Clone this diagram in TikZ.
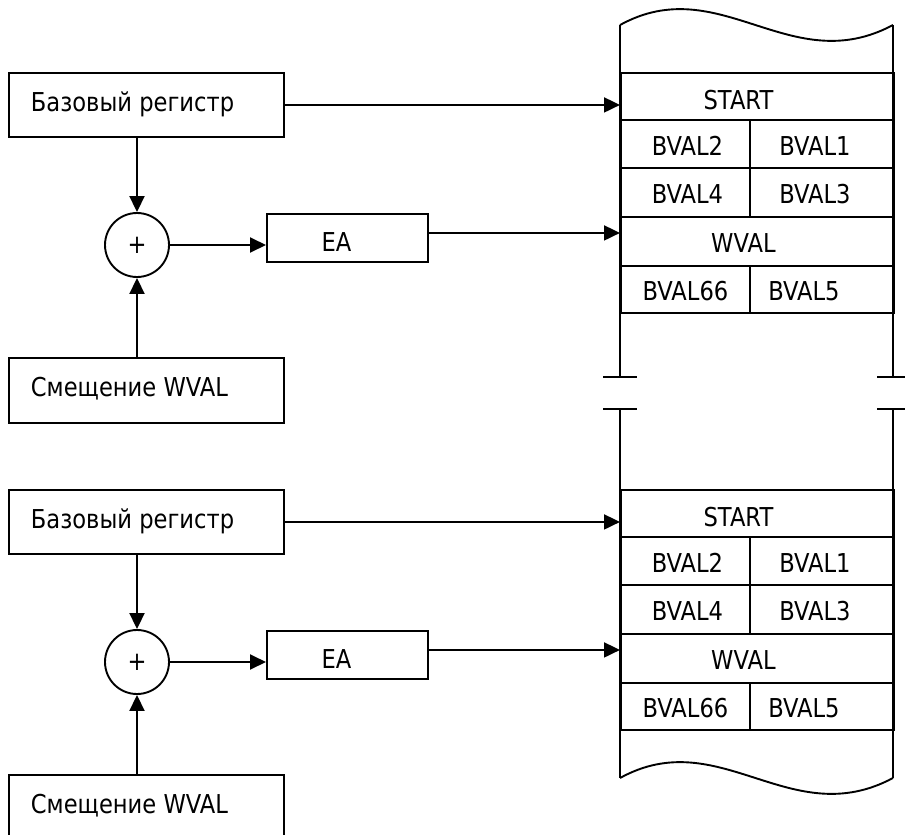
\documentclass[tikz,border=0pt]{standalone}
\usepackage{fontspec}
\setmainfont{DejaVu Sans}[FakeStretch=0.87]
\usetikzlibrary{arrows.meta,calc}
\newcommand\fsz{\fontsize{26}{31}\selectfont}
\begin{document}
\begin{tikzpicture}[x=1pt,y=-1pt,line width=1.9pt,
  box/.style={draw,rectangle,inner sep=0pt,anchor=north west},
  lbl/.style={inner sep=0pt,font=\fsz},
  sumnode/.style={draw,circle,minimum size=64pt,inner sep=0pt,font=\fsz},
  arr/.style={-{Triangle[length=16pt,width=15pt]}}]
\clip (0,0) rectangle (905,835);
\fill[white] (0,0) rectangle (905,835);
% left-hand blocks, two copies
\foreach \s/\dy in {1/0,2/417}{
  \node[box,minimum width=275pt,minimum height=64pt] (base\s) at (8,{72+\dy}) {};
  \node[lbl,anchor=west] at ([xshift=22pt,yshift=1pt]base\s.west) {Базовый регистр};
  \node[sumnode] (sum\s) at (137,{245+\dy}) {+};
  \node[box,minimum width=161pt,minimum height=48pt] (ea\s) at (266,{213+\dy}) {};
  \node[lbl] at ([xshift=-11pt,yshift=-4pt]ea\s.center) {EA};
  \node[box,minimum width=275pt,minimum height=65pt] (smesh\s) at (8,{357+\dy}) {};
  \node[lbl,anchor=west] at ([xshift=22pt,yshift=2pt]smesh\s.west) {Смещение WVAL};
  % memory cells
  \node[box,minimum width=273pt,minimum height=47pt] (start\s) at (620,{72+\dy}) {};
  \node[box,minimum width=129pt,minimum height=48pt] (bvtwo\s) at (620,{119+\dy}) {};
  \node[box,minimum width=144pt,minimum height=48pt] (bvone\s) at (749,{119+\dy}) {};
  \node[box,minimum width=129pt,minimum height=49pt] (bvfour\s) at (620,{167+\dy}) {};
  \node[box,minimum width=144pt,minimum height=49pt] (bvthree\s) at (749,{167+\dy}) {};
  \node[box,minimum width=273pt,minimum height=49pt] (wval\s) at (620,{216+\dy}) {};
  \node[box,minimum width=129pt,minimum height=47pt] (bvsixsix\s) at (620,{265+\dy}) {};
  \node[box,minimum width=144pt,minimum height=47pt] (bvfive\s) at (749,{265+\dy}) {};
  \node[lbl] at ([xshift=-19pt,yshift=-4pt]start\s.center) {START};
  \node[lbl] at ([xshift=2pt,yshift=-2pt]bvtwo\s.center) {BVAL2};
  \node[lbl] at ([xshift=-7pt,yshift=-2pt]bvone\s.center) {BVAL1};
  \node[lbl] at ([xshift=2pt,yshift=-2pt]bvfour\s.center) {BVAL4};
  \node[lbl] at ([xshift=-7pt,yshift=-2pt]bvthree\s.center) {BVAL3};
  \node[lbl] at ([xshift=-14pt,yshift=-2pt]wval\s.center) {WVAL};
  \node[lbl] at ([xshift=0pt,yshift=-2pt]bvsixsix\s.center) {BVAL66};
  \node[lbl] at ([xshift=-18pt,yshift=-2pt]bvfive\s.center) {BVAL5};
  % connectors
  \draw[arr] (base\s.east) -- (base\s.east -| start\s.west);
  \draw[arr] (base\s.south -| sum\s.north) -- (sum\s.north);
  \draw[arr] (smesh\s.north -| sum\s.south) -- (sum\s.south);
  \draw[arr] (sum\s.east) -- (sum\s.east -| ea\s.west);
  \coordinate (e\s) at ([yshift=5pt]ea\s.east);
  \draw[arr] (e\s) -- (e\s -| wval\s.west);
}
% memory column outline
\draw (620,25) .. controls (720,-30) and (790,80) .. (893,25);
\draw (620,25) -- (620,377);
\draw (893,25) -- (893,377);
\draw (603,377) -- (637,377);
\draw (877,377) -- (910,377);
\draw (603,409) -- (637,409);
\draw (877,409) -- (910,409);
\draw (620,409) -- (620,778);
\draw (893,409) -- (893,778);
\draw (620,778) .. controls (720,723) and (790,833) .. (893,778);
\end{tikzpicture}
\end{document}
